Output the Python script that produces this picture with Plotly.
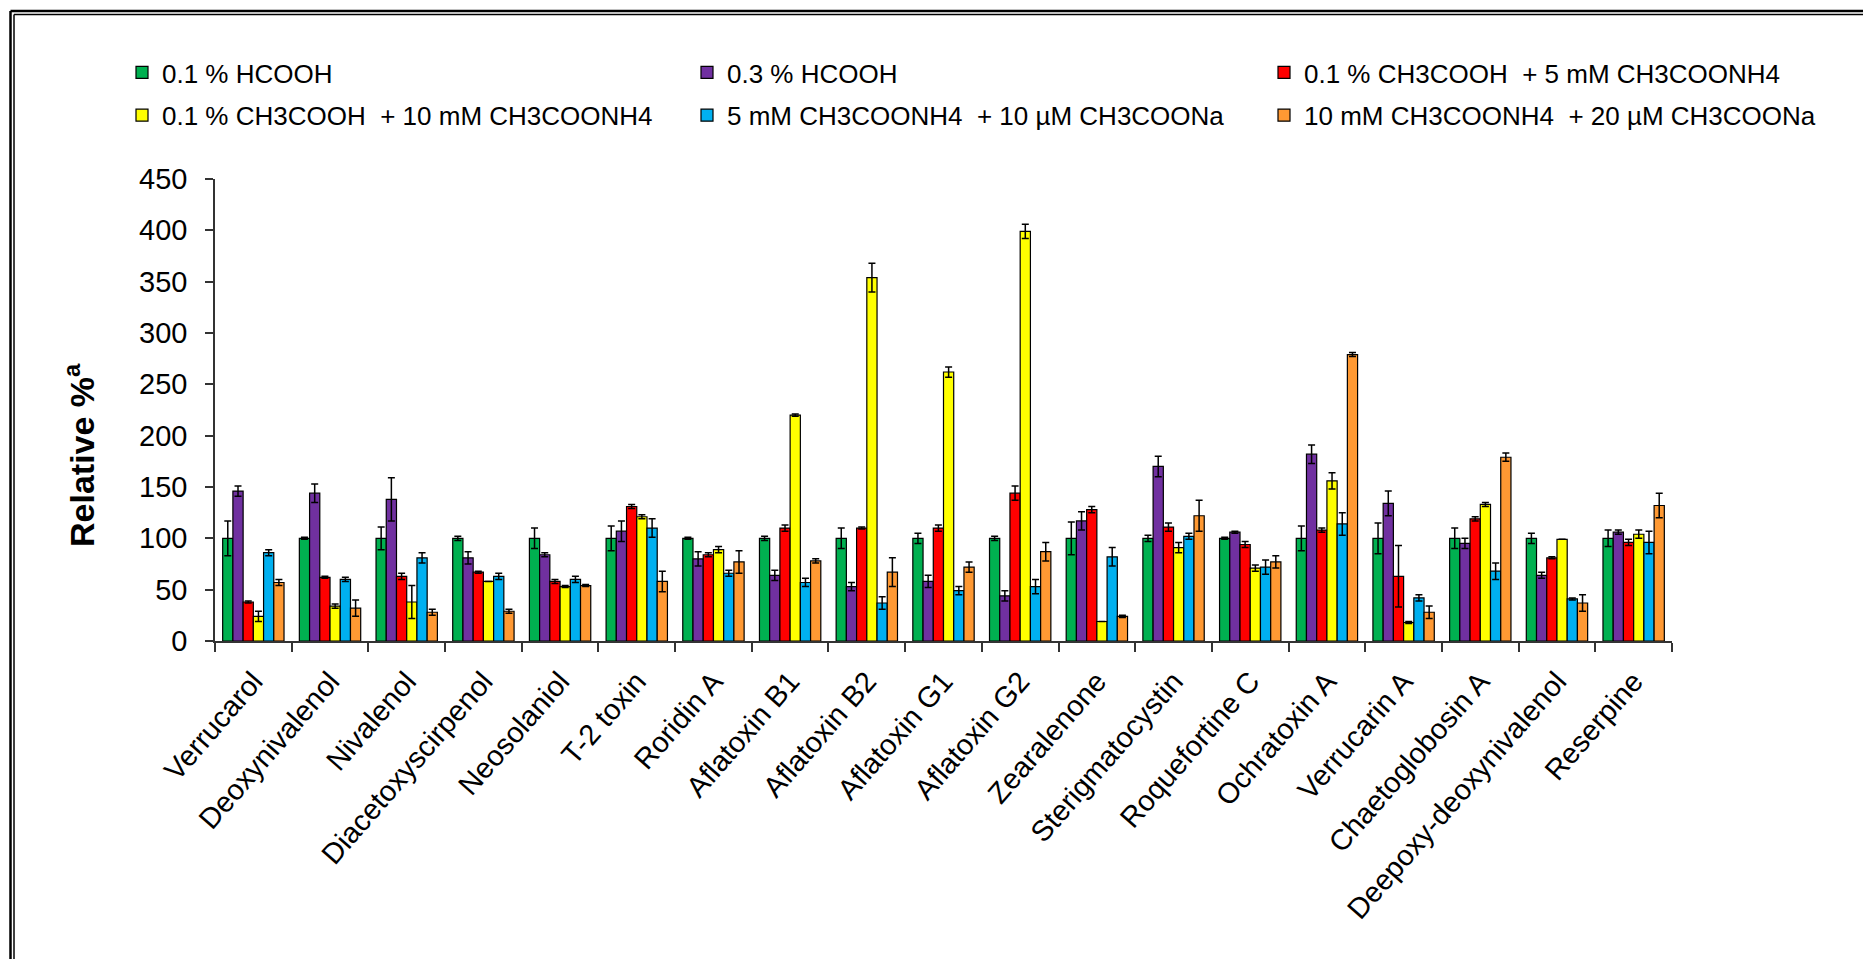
import plotly.graph_objects as go

categories = ["Verrucarol", "Deoxynivalenol", "Nivalenol", "Diacetoxyscirpenol", "Neosolaniol",
              "T-2 toxin", "Roridin A", "Aflatoxin B1", "Aflatoxin B2", "Aflatoxin G1",
              "Aflatoxin G2", "Zearalenone", "Sterigmatocystin", "Roquefortine C", "Ochratoxin A",
              "Verrucarin A", "Chaetoglobosin A", "Deepoxy-deoxynivalenol", "Reserpine"]

series_names = ["0.1 % HCOOH", "0.3 % HCOOH", "0.1 % CH3COOH  + 5 mM CH3COONH4",
                "0.1 % CH3COOH  + 10 mM CH3COONH4", "5 mM CH3COONH4  + 10 µM CH3COONa",
                "10 mM CH3COONH4  + 20 µM CH3COONa"]

hcooh_01 = [100, 100, 100, 100, 100, 100, 100, 100, 100, 100, 100, 100, 100, 100, 100, 100, 100, 100, 100]
hcooh_01_err = [17, 1, 11, 2, 10, 12, 1, 2, 10, 5, 2, 16, 3, 1, 12, 15, 10, 5, 8]

hcooh_03 = [146, 144, 138, 81, 84, 107, 80, 64, 53, 58, 44, 117, 170, 106, 182, 134, 95, 64, 106]
hcooh_03_err = [5, 9, 21, 6, 2, 10, 7, 5, 4, 6, 5, 9, 10, 1, 9, 12, 5, 3, 2]

acetic_5mm = [38, 62, 63, 67, 58, 131, 84, 110, 110, 110, 144, 128, 111, 94, 108, 63, 119, 81, 96]
acetic_5mm_err = [1, 1, 3, 1, 2, 2, 2, 3, 1, 3, 7, 3, 4, 3, 2, 30, 2, 1, 3]

acetic_10mm = [24, 34, 38, 58, 53, 121, 89, 220, 354, 262, 399, 19, 91, 71, 156, 18, 133, 99, 104]
acetic_10mm_err = [5, 2, 16, 0, 1, 2, 3, 1, 14, 5, 7, 0, 5, 3, 8, 1, 2, 0, 4]

nh4_5mm_na = [86, 60, 81, 63, 60, 110, 66, 57, 37, 49, 53, 82, 102, 72, 114, 42, 68, 41, 96]
nh4_5mm_na_err = [3, 2, 5, 3, 3, 9, 3, 4, 6, 4, 7, 9, 3, 7, 11, 3, 8, 1, 11]

nh4_10mm_na = [57, 32, 28, 29, 54, 58, 77, 78, 67, 72, 87, 24, 122, 77, 279, 28, 179, 37, 132]
nh4_10mm_na_err = [3, 8, 3, 2, 1, 10, 11, 2, 14, 5, 9, 1, 15, 6, 2, 6, 4, 8, 12]

values = [hcooh_01, hcooh_03, acetic_5mm, acetic_10mm, nh4_5mm_na, nh4_10mm_na]
errors = [hcooh_01_err, hcooh_03_err, acetic_5mm_err, acetic_10mm_err, nh4_5mm_na_err, nh4_10mm_na_err]
colors = ["#00B050", "#7030A0", "#FF0000", "#FFFF00", "#00B0F0", "#FF9933"]
legend_ids = ["legend", "legend2", "legend3", "legend", "legend2", "legend3"]

FONT = "Arial, 'Liberation Sans', sans-serif"

W, H = 1863, 959
ML, MR, MT, MB = 215, 191, 179, 318
PW = W - ML - MR
PH = H - MT - MB


def px_x(x):
    return (x - ML) / PW


def px_y(y):
    return (H - MB - y) / PH


fig = go.Figure()
for i in range(6):
    fig.add_trace(go.Bar(
        x=categories, y=values[i], name=series_names[i],
        marker=dict(color=colors[i], line=dict(color="#000000", width=1.2)),
        error_y=dict(type="data", array=errors[i], visible=True, color="#000000",
                     thickness=1.5, width=3.5),
        legend=legend_ids[i], legendgroup=f"g{i}",
    ))

legend_common = dict(
    orientation="v", xanchor="left", yanchor="top",
    font=dict(family=FONT, size=26, color="#000000"),
    itemwidth=30, tracegroupgap=6, bgcolor="rgba(0,0,0,0)", traceorder="grouped",
    itemclick=False, itemdoubleclick=False,
)

fig.update_layout(
    width=W, height=H,
    margin=dict(l=ML, r=MR, t=MT, b=MB, autoexpand=False),
    paper_bgcolor="white", plot_bgcolor="white",
    barmode="group", bargap=0.2, bargroupgap=0,
    font=dict(family=FONT, color="#000000"),
    legend=dict(x=px_x(122), y=px_y(49), **legend_common),
    legend2=dict(x=px_x(687), y=px_y(49), **legend_common),
    legend3=dict(x=px_x(1264), y=px_y(49), **legend_common),
    xaxis=dict(
        type="category", showline=True, linecolor="#333333", linewidth=1.5,
        ticks="outside", ticklen=9, tickwidth=1.5, tickcolor="#333333",
        tickson="boundaries", tickangle=-49,
        tickfont=dict(family=FONT, size=29, color="#000000"),
        showgrid=False, zeroline=False, ticklabelstandoff=10,
    ),
    yaxis=dict(
        range=[0, 450], tickmode="array", tickvals=list(range(0, 451, 50)),
        showline=True, linecolor="#333333", linewidth=1.5,
        ticks="outside", ticklen=8, tickwidth=1.5, tickcolor="#333333",
        tickfont=dict(family=FONT, size=29, color="#000000"),
        showgrid=False, zeroline=False, ticklabelstandoff=12,
    ),
    annotations=[dict(
        text="<b>Relative %<sup>a</sup></b>", x=px_x(79), y=px_y(455),
        xref="paper", yref="paper", showarrow=False, textangle=-90,
        xanchor="center", yanchor="middle",
        font=dict(family=FONT, size=34, color="#000000"),
    )],
    shapes=[
        dict(type="line", xref="paper", yref="paper", x0=px_x(10.5), x1=px_x(1880),
             y0=px_y(11), y1=px_y(11), line=dict(color="#000000", width=2.5)),
        dict(type="line", xref="paper", yref="paper", x0=px_x(14), x1=px_x(1880),
             y0=px_y(14.5), y1=px_y(14.5), line=dict(color="#000000", width=1.5)),
        dict(type="line", xref="paper", yref="paper", x0=px_x(10.5), x1=px_x(10.5),
             y0=px_y(11), y1=px_y(980), line=dict(color="#000000", width=2.5)),
        dict(type="line", xref="paper", yref="paper", x0=px_x(14), x1=px_x(14),
             y0=px_y(14.5), y1=px_y(980), line=dict(color="#000000", width=1.5)),
    ],
)

fig.write_html("out.html")
